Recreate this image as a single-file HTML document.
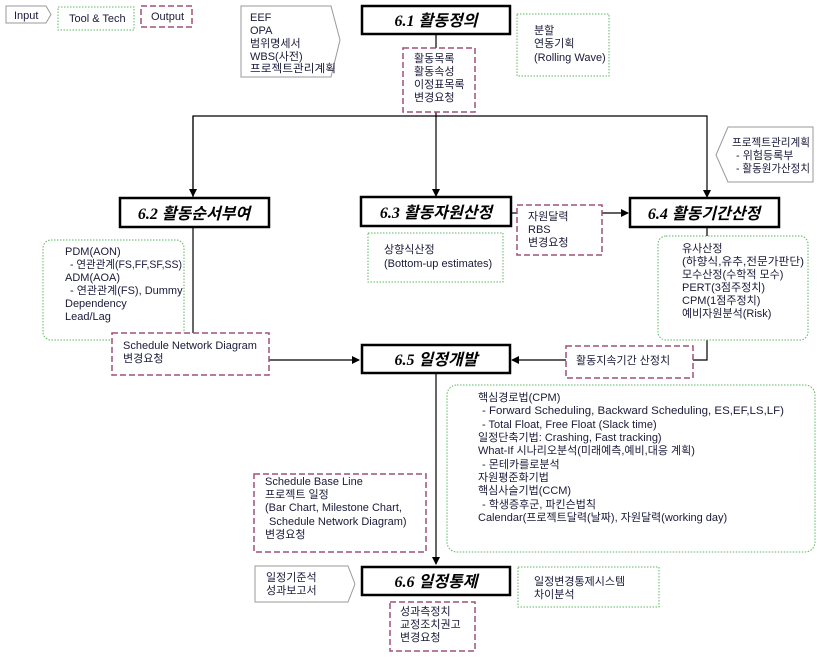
<!DOCTYPE html>
<html><head><meta charset="utf-8"><style>
html,body{margin:0;padding:0;background:#fff;}
svg text{font-family:"Liberation Sans","Noto Sans CJK KR",sans-serif;font-size:11px;fill:#1a1a3a;}
.t{font-family:"Liberation Serif","Noto Sans CJK KR",serif;font-size:16px;font-weight:bold;font-style:italic;fill:#000;}
.out{fill:#fff;stroke:#a0507a;stroke-width:1.5;stroke-dasharray:6,3;}
.grn{fill:#fff;stroke:#5cb85c;stroke-width:1;stroke-dasharray:1.5,1.5;}
.inp{fill:#fff;stroke:#999;stroke-width:1;}
.box{fill:#fff;stroke:#000;stroke-width:2.5;}
.ln{stroke:#000;stroke-width:1.2;fill:none;}
</style></head><body>
<svg width="821" height="656" xmlns="http://www.w3.org/2000/svg">
<defs><marker id="a" markerWidth="8" markerHeight="8" refX="7" refY="4" orient="auto" markerUnits="userSpaceOnUse"><path d="M0,0 L8,4 L0,8z" fill="#000"/></marker></defs>

<path class="inp" d="M6,6 H46 L51,14.5 L46,23 H6z"/><text x="14" y="19">Input</text>
<rect class="grn" x="58" y="7" width="76" height="23"/><text x="69" y="22">Tool &amp; Tech</text>
<rect class="out" x="141" y="6" width="51" height="21"/><text x="151" y="20">Output</text>

<path class="inp" d="M241,6 H331 L340,40 L331,77 H241z"/>
<text x="250" y="21">EEF</text><text x="250" y="34">OPA</text><text x="250" y="47">범위명세서</text><text x="250" y="60">WBS(사전)</text><text x="250" y="72" textLength="86" lengthAdjust="spacingAndGlyphs">프로젝트관리계획</text>

<line class="ln" x1="436" y1="34" x2="436" y2="116"/>
<polyline class="ln" points="193,198 193,116 707,116 707,197" marker-end="url(#a)"/>
<line class="ln" x1="193" y1="116" x2="193" y2="196" marker-end="url(#a)"/>
<line class="ln" x1="436" y1="116" x2="436" y2="196" marker-end="url(#a)"/>
<line class="ln" x1="193" y1="227" x2="193" y2="340"/>
<line class="ln" x1="269" y1="360" x2="359" y2="360" marker-end="url(#a)"/>
<line class="ln" x1="511" y1="213" x2="520" y2="213" stroke="#666"/>
<line class="ln" x1="602" y1="213" x2="628" y2="213" marker-end="url(#a)"/>
<polyline class="ln" points="707,227 707,360 512,360" marker-end="url(#a)"/>
<line class="ln" x1="436" y1="373" x2="436" y2="564" marker-end="url(#a)"/>

<rect class="box" x="362" y="6" width="148" height="28"/><text class="t" x="436" y="26" text-anchor="middle">6.1 활동정의</text>
<rect class="out" x="403" y="48" width="72" height="64"/>
<text x="414" y="62">활동목록</text><text x="414" y="75">활동속성</text><text x="414" y="88">이정표목록</text><text x="414" y="101">변경요청</text>
<rect class="grn" x="517" y="14" width="92" height="62"/>
<text x="534" y="34">분할</text><text x="534" y="47">연동기획</text><text x="534" y="61">(Rolling Wave)</text>

<rect class="box" x="120" y="198" width="149" height="29"/><text class="t" x="194" y="219" text-anchor="middle">6.2 활동순서부여</text>
<rect class="grn" x="43" y="240" width="141" height="100" rx="8"/>
<text x="65" y="255">PDM(AON)</text><text x="70" y="268" textLength="112" lengthAdjust="spacingAndGlyphs">- 연관관계(FS,FF,SF,SS)</text><text x="65" y="281">ADM(AOA)</text><text x="70" y="294">- 연관관계(FS), Dummy</text><text x="65" y="307">Dependency</text><text x="65" y="320">Lead/Lag</text>
<rect class="out" x="112" y="333" width="157" height="42"/>
<text x="123" y="349">Schedule Network Diagram</text><text x="123" y="362">변경요청</text>

<rect class="box" x="361" y="197" width="150" height="29"/><text class="t" x="436" y="218" text-anchor="middle">6.3 활동자원산정</text>
<rect class="grn" x="368" y="233" width="135" height="49"/>
<text x="384" y="253">상향식산정</text><text x="384" y="267">(Bottom-up estimates)</text>
<rect class="out" x="517" y="205" width="85" height="50"/>
<text x="528" y="220">자원달력</text><text x="528" y="233">RBS</text><text x="528" y="246">변경요청</text>

<path class="inp" d="M728,127 H813 V182 H728 L716,155z"/>
<text x="732" y="146" textLength="78" lengthAdjust="spacingAndGlyphs">프로젝트관리계획</text><text x="736" y="159">- 위험등록부</text><text x="736" y="172" textLength="74" lengthAdjust="spacingAndGlyphs">- 활동원가산정치</text>
<rect class="box" x="630" y="198" width="149" height="29"/><text class="t" x="704" y="219" text-anchor="middle">6.4 활동기간산정</text>
<rect class="grn" x="658" y="236" width="150" height="104" rx="8"/>
<text x="682" y="252">유사산정</text><text x="682" y="265" textLength="122" lengthAdjust="spacingAndGlyphs">(하향식,유추,전문가판단)</text><text x="682" y="278">모수산정(수학적 모수)</text><text x="682" y="291">PERT(3점주정치)</text><text x="682" y="304">CPM(1점주정치)</text><text x="682" y="317">예비자원분석(Risk)</text>
<rect class="out" x="566" y="346" width="127" height="32"/><text x="576" y="364">활동지속기간 산정치</text>

<rect class="box" x="362" y="345" width="148" height="28"/><text class="t" x="436" y="365" text-anchor="middle">6.5 일정개발</text>
<rect class="grn" x="447" y="385" width="368" height="167" rx="10"/>
<text x="478" y="401">핵심경로법(CPM)</text>
<text x="482" y="414" textLength="302" lengthAdjust="spacingAndGlyphs">- Forward Scheduling, Backward Scheduling, ES,EF,LS,LF)</text>
<text x="482" y="428">- Total Float, Free Float (Slack time)</text>
<text x="478" y="441">일정단축기법: Crashing, Fast tracking)</text>
<text x="478" y="454">What-If 시나리오분석(미래예측,예비,대응 계획)</text>
<text x="482" y="468">- 몬테카를로분석</text>
<text x="478" y="481">자원평준화기법</text>
<text x="478" y="494">핵심사슬기법(CCM)</text>
<text x="482" y="508">- 학생증후군, 파킨슨법칙</text>
<text x="478" y="521">Calendar(프로젝트달력(날짜), 자원달력(working day)</text>
<rect class="out" x="254" y="474" width="172" height="78"/>
<text x="265" y="485">Schedule Base Line</text><text x="265" y="498">프로젝트 일정</text><text x="265" y="511">(Bar Chart, Milestone Chart,</text><text x="269" y="525">Schedule Network Diagram)</text><text x="265" y="538">변경요청</text>

<path class="inp" d="M255,566 H348 L355,584 L348,602 H255z"/>
<text x="266" y="581">일정기준석</text><text x="266" y="594">성과보고서</text>
<rect class="box" x="362" y="567" width="148" height="28"/><text class="t" x="436" y="587" text-anchor="middle">6.6 일정통제</text>
<rect class="grn" x="518" y="567" width="141" height="40"/>
<text x="534" y="585">일정변경통제시스템</text><text x="534" y="598">차이분석</text>
<rect class="out" x="390" y="602" width="85" height="49"/>
<text x="400" y="615">성과측정치</text><text x="400" y="628">교정조치권고</text><text x="400" y="641">변경요청</text>
</svg>
</body></html>
